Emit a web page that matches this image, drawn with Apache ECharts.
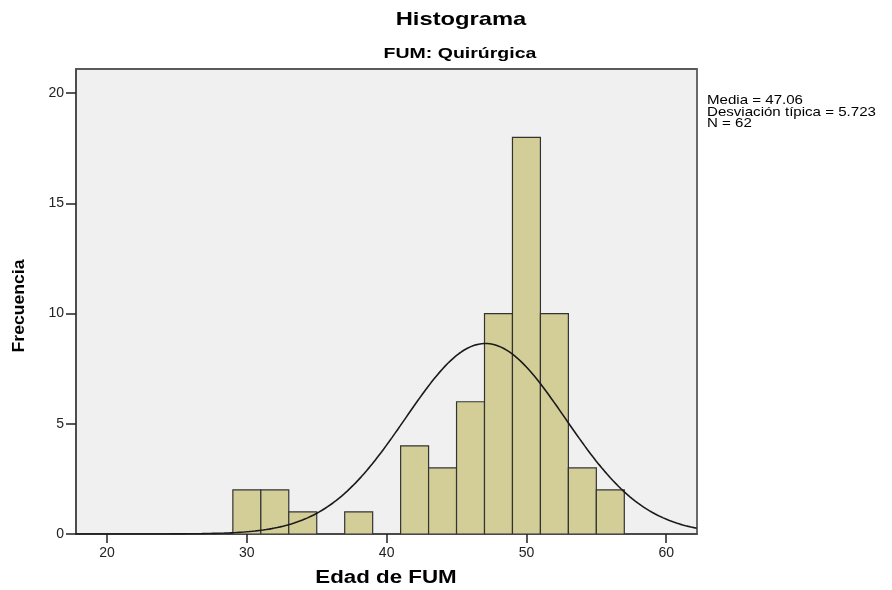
<!DOCTYPE html>
<html lang="es">
<head>
    <meta charset="UTF-8">
    <title>Histograma</title>
    <script src="https://cdn.jsdelivr.net/npm/echarts@6/dist/echarts.min.js"></script>
    <style>
        html, body { margin: 0; padding: 0; background: #fff; }
    </style>
</head>
<body>
    <div id="main" style="width:892px;height:590px;"></div>

    <script>
        // bins de 2 años (inicio de cada bin) y frecuencia
        const binStart = [29, 31, 33, 37, 41, 43, 45, 47, 49, 51, 53, 55];
        const counts   = [2, 2, 1, 1, 4, 3, 6, 10, 18, 10, 3, 2];
        const binWidth = 2;
        const xTicks = [20, 30, 40, 50, 60];
        const yTicks = [0, 5, 10, 15, 20];

        // estadísticos que muestra el gráfico
        const media = 47.06;
        const desv = 5.723;
        const n = 62;

        const xMin = 17.78, xMax = 62.2;

        const barData = binStart.map((s, i) => [s, s + binWidth, counts[i]]);

        // curva normal con los estadísticos del gráfico
        const curve = [];
        for (let x = xMin; x <= xMax + 0.001; x += 0.2) {
            const z = (x - media) / desv;
            const y = n * binWidth * Math.exp(-0.5 * z * z) / (desv * Math.sqrt(2 * Math.PI));
            curve.push([x, y]);
        }

        function renderBar(params, api) {
            const p0 = api.coord([api.value(0), 0]);
            const p1 = api.coord([api.value(1), api.value(2)]);
            return {
                type: 'rect',
                shape: { x: p0[0], y: p1[1], width: p1[0] - p0[0], height: p0[1] - p1[1] },
                style: { fill: '#D3CE98', stroke: '#333', lineWidth: 1.2 }
            };
        }

        const font = 'Liberation Sans, Arial, sans-serif';

        const option = {
            backgroundColor: '#fff',
            animation: false,
            grid: {
                left: 76, right: 195, top: 69, bottom: 56,
                show: true,
                backgroundColor: '#F0F0F0',
                borderColor: '#5a5a5a',
                borderWidth: 1.8
            },
            xAxis: {
                type: 'value',
                min: xMin,
                max: xMax,
                axisLine: { show: true, onZero: false, lineStyle: { color: '#444', width: 1.5 } },
                axisTick: { show: true, customValues: xTicks, length: 9, lineStyle: { color: '#222', width: 1.5 } },
                axisLabel: { customValues: xTicks, color: '#222', fontFamily: font, fontSize: 14, margin: 12 },
                splitLine: { show: false }
            },
            yAxis: {
                type: 'value',
                min: 0,
                max: 21.1,
                interval: 5,
                axisLine: { show: true, lineStyle: { color: '#444', width: 1.5 } },
                axisTick: { show: true, customValues: yTicks, length: 10, lineStyle: { color: '#222', width: 1.5 } },
                axisLabel: { customValues: yTicks, color: '#222', fontFamily: font, fontSize: 14, margin: 12 },
                splitLine: { show: false }
            },
            graphic: [
                { type: 'text', x: 461, y: 10, scaleX: 1.25, style: { text: 'Histograma', fill: '#000', font: 'bold 19px ' + font, align: 'center' } },
                { type: 'text', x: 460, y: 46, scaleX: 1.3, style: { text: 'FUM: Quirúrgica', fill: '#000', font: 'bold 15px ' + font, align: 'center' } },
                { type: 'text', x: 386, y: 569, scaleX: 1.24, style: { text: 'Edad de FUM', fill: '#000', font: 'bold 18px ' + font, align: 'center' } },
                { type: 'text', x: 20, y: 306, rotation: Math.PI / 2, scaleX: 1.1, style: { text: 'Frecuencia', fill: '#000', font: 'bold 16px ' + font, align: 'center', verticalAlign: 'middle' } },
                { type: 'text', x: 707, y: 95, scaleX: 1.16, style: { text: 'Media = ' + media.toFixed(2) + '\nDesviación típica = ' + desv.toFixed(3) + '\nN = ' + n, fill: '#000', font: '13px ' + font, lineHeight: 11.5 } }
            ],
            series: [
                {
                    type: 'custom',
                    renderItem: renderBar,
                    data: barData,
                    encode: { x: [0, 1], y: 2 },
                    clip: true,
                    z: 2
                },
                {
                    type: 'line',
                    data: curve,
                    showSymbol: false,
                    symbol: 'none',
                    lineStyle: { color: '#1a1a1a', width: 1.6 },
                    clip: true,
                    z: 3
                }
            ]
        };

        const myChart = echarts.init(document.getElementById('main'));
        myChart.setOption(option);
    </script>
</body>
</html>
